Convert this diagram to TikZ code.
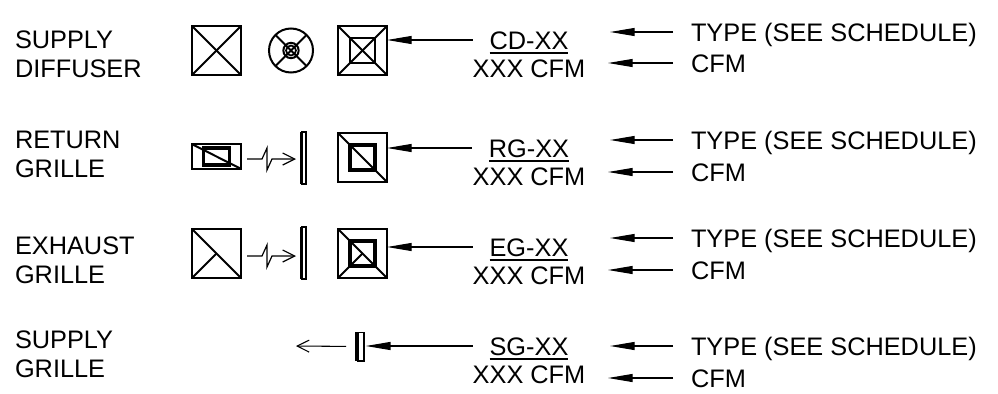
\documentclass[tikz,border=0pt]{standalone}
\usepackage{fontspec}
\setmainfont{Liberation Sans}
\usetikzlibrary{positioning,arrows.meta}

\begin{document}
\begin{tikzpicture}[x=.75pt,y=-.75pt,node distance =21.4pt ,on grid ,
txt/.style ={inner sep=0pt ,outer sep=0pt ,text height=13.5pt ,text depth=0pt ,
font=\fontsize{19}{21}\selectfont },
captxt/.style ={anchor=north west ,inner sep=0pt ,outer sep=0pt ,align=left ,
font=\fontsize{19}{21.5}\selectfont },
sq/.style ={draw ,minimum size=36.75pt ,inner sep=0pt ,outer sep=0pt ,line width=1.5pt },
insq/.style ={draw ,minimum size=18.5pt ,inner sep=0pt ,outer sep=0pt ,line width=1.5pt },
wall/.style ={draw ,minimum width=3.5pt ,minimum height=39pt ,inner sep=0pt ,outer sep=0pt ,line width=1pt },
ln/.style ={line width=1.5pt },
ul/.style ={line width=1.6pt },
lead/.style ={line width=.8pt ,-{Triangle[length=18.5pt,width=6pt]} },
flex/.style ={line width=.9pt ,-{Straight Barb[length=9pt,width=9pt]} }]
\useasboundingbox (0,0) rectangle (998,393);

% captions
\node[captxt] (capA) at (15,31) {SUPPLY\\DIFFUSER};
\node[captxt] (capB) at (15,131) {RETURN\\GRILLE};
\node[captxt] (capC) at (15,237) {EXHAUST\\GRILLE};
\node[captxt] (capD) at (15,331) {SUPPLY\\GRILLE};

% supply diffuser
\node[sq,line width=1.9pt] (sqA) at (216.5,50.5) {};
\draw[ln] (sqA.north west) -- (sqA.south east);
\draw[ln] (sqA.north east) -- (sqA.south west);
\node[draw,circle,minimum size=33pt,inner sep=0pt,outer sep=0pt,line width=1.5pt] (ringA) at (291,50.5) {};
\draw[ln] (ringA.45) -- (ringA.225);
\draw[ln] (ringA.135) -- (ringA.315);
\node[draw,circle,minimum size=11.5pt,inner sep=0pt,line width=1.5pt] (ringB) at (ringA) {};
\node[draw,circle,minimum size=7.5pt,inner sep=0pt,line width=1.3pt] (ringC) at (ringA) {};
\node[sq] (plA) at (362.5,50.5) {};
\node[insq] (inA) at (plA) {};
\draw[ln] (plA.north west) -- (plA.south east);
\draw[ln] (plA.north east) -- (plA.south west);

% return grille
\node[sq,minimum height=18.5pt,line width=1.9pt] (sqB) at (216.5,156.5) {};
\node[draw,minimum width=19.5pt,minimum height=12.5pt,inner sep=0pt,line width=2.8pt] (inB) at (sqB) {};
\draw[ln] (sqB.north west) -- (sqB.south east);
\coordinate (flexB) at (247,159);
\draw[flex] (flexB) -- ++(15,0) -- ++(5,-11) -- ++(0,22) -- ++(5,-11) -- (296,159);
\node[wall] (wallB) at (303.5,158) {};
\draw[line width=2.2pt] (wallB.north west) -- (wallB.south west);
\node[sq] (plB) at (362.5,157.5) {};
\node[insq,line width=2.8pt] (inBB) at (plB) {};
\draw[ln] (plB.north west) -- (plB.south east);

% exhaust grille
\node[sq] (sqC) at (216.5,253.5) {};
\draw[ln] (sqC.north west) -- (sqC.south east);
\draw[ln] (sqC.south west) -- (sqC.center);
\coordinate (flexC) at (247,256);
\draw[flex] (flexC) -- ++(15,0) -- ++(5,-11) -- ++(0,22) -- ++(5,-11) -- (296,256);
\node[wall] (wallC) at (303.5,253) {};
\draw[line width=2.2pt] (wallC.north west) -- (wallC.south west);
\node[sq] (plC) at (362.5,253.5) {};
\node[insq,line width=2.8pt] (inC) at (plC) {};
\draw[ln] (plC.north west) -- (plC.south east);
\draw[ln] (plC.south west) -- (plC.center);

% supply grille
\node[wall,minimum width=5pt,minimum height=21.5pt] (wallD) at (360.5,346.5) {};
\draw[line width=3pt] (wallD.north west) -- (wallD.south west);
\coordinate (openD) at (296,346);
\draw[flex,line width=.8pt,shorten <=8.25pt] (wallD.west) -- (openD);

% type tags
\node[txt] (tagA) at (529,40) {CD-XX};
\node[txt] (cfmA) [below=of tagA] {XXX CFM};
\node[txt] (tagB) at (529,148) {RG-XX};
\node[txt] (cfmB) [below=of tagB] {XXX CFM};
\node[txt] (tagC) at (529,247) {EG-XX};
\node[txt] (cfmC) [below=of tagC] {XXX CFM};
\node[txt] (tagD) at (529,346) {SG-XX};
\node[txt] (cfmD) [below=of tagD] {XXX CFM};
\draw[ul] ([yshift=-3pt]tagA.south west) -- ([yshift=-3pt]tagA.south east);
\draw[ul] ([yshift=-3pt]tagB.south west) -- ([yshift=-3pt]tagB.south east);
\draw[ul] ([yshift=-3pt]tagC.south west) -- ([yshift=-3pt]tagC.south east);
\draw[ul] ([yshift=-3pt]tagD.south west) -- ([yshift=-3pt]tagD.south east);
\draw[lead,shorten <=12.75pt] (tagA.west) -- (tagA.west -| plA.east);
\draw[lead,shorten <=12.75pt] (tagB.west) -- (tagB.west -| plB.east);
\draw[lead,shorten <=12.75pt] (tagC.west) -- (tagC.west -| plC.east);
\draw[lead,shorten <=12.75pt,shorten >=1.5pt] (tagD.west) -- (tagD.west -| wallD.east);

% notes on the right
\node[txt,anchor=west] (noteA) at (691,32) {TYPE (SEE SCHEDULE)};
\node[txt,anchor=west] (numA) at (691,63) {CFM};
\node[txt,anchor=west] (noteB) at (691,140) {TYPE (SEE SCHEDULE)};
\node[txt,anchor=west] (numB) at (691,172) {CFM};
\node[txt,anchor=west] (noteC) at (691,238) {TYPE (SEE SCHEDULE)};
\node[txt,anchor=west] (numC) at (691,270) {CFM};
\node[txt,anchor=west] (noteD) at (691,346) {TYPE (SEE SCHEDULE)};
\node[txt,anchor=west] (numD) at (691,378) {CFM};
\coordinate (tipA) at (610,32);
\coordinate (endA) at (608,63);
\coordinate (tipB) at (610,140);
\coordinate (endB) at (608,172);
\coordinate (tipC) at (610,238);
\coordinate (endC) at (608,270);
\coordinate (tipD) at (610,346);
\coordinate (endD) at (608,378);
\draw[lead,shorten <=13.5pt] (noteA.west) -- (tipA);
\draw[lead,shorten <=13.5pt] (numA.west) -- (endA);
\draw[lead,shorten <=13.5pt] (noteB.west) -- (tipB);
\draw[lead,shorten <=13.5pt] (numB.west) -- (endB);
\draw[lead,shorten <=13.5pt] (noteC.west) -- (tipC);
\draw[lead,shorten <=13.5pt] (numC.west) -- (endC);
\draw[lead,shorten <=13.5pt] (noteD.west) -- (tipD);
\draw[lead,shorten <=13.5pt] (numD.west) -- (endD);
\end{tikzpicture}
\end{document}
